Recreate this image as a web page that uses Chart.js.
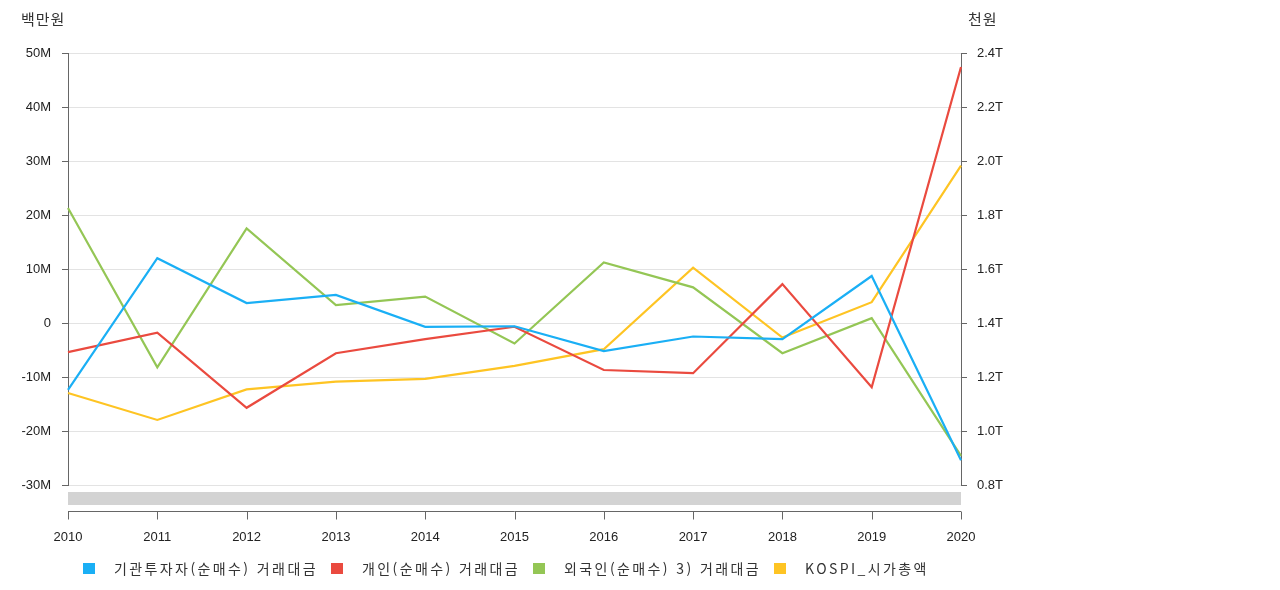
<!DOCTYPE html>
<html lang="ko">
<head>
<meta charset="utf-8">
<script src="https://cdn.jsdelivr.net/npm/chart.js@4/dist/chart.umd.min.js"></script>
<style>
    html, body { margin: 0; padding: 0; background: #fff; }
    #wrap { position: relative; width: 1280px; height: 590px; }
    #legend {
        position: absolute; left: 83px; top: 558px;
        display: flex; align-items: center;
        font-family: 'Noto Sans CJK KR', sans-serif; font-size: 14px; color: #333;
        letter-spacing: 2.4px;
    }
    #legend .item { display: flex; align-items: center; margin-right: 13px; }
    #legend .box { width: 12px; height: 11px; margin-right: 19px; }
</style>
</head>
<body>
<div id="wrap">
    <canvas id="chart"></canvas>
    <div id="legend"></div>
</div>
<script>
// 연도
const years = ['2010', '2011', '2012', '2013', '2014', '2015', '2016', '2017', '2018', '2019', '2020'];

// 백만원 단위 (왼쪽 축)
const institutional = [-12.4e6, 12.0e6, 3.7e6, 5.2e6, -0.7e6, -0.6e6, -5.2e6, -2.5e6, -3.0e6, 8.7e6, -25.4e6];
const individual = [-5.4e6, -1.8e6, -15.7e6, -5.6e6, -3.0e6, -0.7e6, -8.7e6, -9.3e6, 7.2e6, -11.9e6, 47.4e6];
const foreign = [21.3e6, -8.2e6, 17.5e6, 3.3e6, 4.9e6, -3.8e6, 11.2e6, 6.6e6, -5.6e6, 0.9e6, -24.6e6];

// 천원 단위 (오른쪽 축)
const kospiCap = [1.141e12, 1.041e12, 1.154e12, 1.183e12, 1.193e12, 1.241e12, 1.303e12, 1.605e12, 1.346e12, 1.477e12, 1.983e12];

const seriesNames = ['기관투자자(순매수) 거래대금', '개인(순매수) 거래대금', '외국인(순매수) 3) 거래대금', 'KOSPI_시가총액'];
const seriesColors = ['#1aaff5', '#ea4a3f', '#94c655', '#fec423'];

const leftTicks = v => v === 0 ? '0' : (v / 1e6) + 'M';
const rightTicks = v => (v / 1e12).toFixed(1) + 'T';

const axisColor = '#666';
const tickFont = { family: "'Liberation Sans', Arial, sans-serif", size: 13 };

// x축을 차트 영역 아래로 띄워서 그리고, 그 사이에 회색 바를 넣는다
const extrasPlugin = {
    id: 'extras',
    afterDraw(chart) {
        const ctx = chart.ctx;
        const area = chart.chartArea;
        const xScale = chart.scales.x;

        ctx.save();
        ctx.fillStyle = '#d3d3d3';
        ctx.fillRect(area.left, area.bottom + 7, area.right - area.left, 13);

        const axisY = Math.round(area.bottom + 26) + 0.5;
        ctx.strokeStyle = axisColor;
        ctx.lineWidth = 1;
        ctx.beginPath();
        ctx.moveTo(area.left, axisY);
        ctx.lineTo(area.right, axisY);
        years.forEach((_, i) => {
            const px = Math.round(xScale.getPixelForValue(i)) + 0.5;
            ctx.moveTo(px, axisY);
            ctx.lineTo(px, axisY + 8);
        });
        ctx.stroke();

        ctx.fillStyle = '#333';
        ctx.font = "15px 'Noto Sans CJK KR', sans-serif";
        ctx.letterSpacing = '1px';
        ctx.textBaseline = 'alphabetic';
        ctx.textAlign = 'left';
        ctx.fillText('백만원', 21, 25);
        ctx.fillText('천원', 968, 25);
        ctx.restore();
    }
};

const datasets = [
    { label: seriesNames[0], data: institutional, yAxisID: 'y' },
    { label: seriesNames[1], data: individual, yAxisID: 'y' },
    { label: seriesNames[2], data: foreign, yAxisID: 'y' },
    { label: seriesNames[3], data: kospiCap, yAxisID: 'y1' }
].map((ds, i) => Object.assign(ds, {
    borderColor: seriesColors[i],
    backgroundColor: seriesColors[i],
    borderWidth: 2.2,
    pointRadius: 0,
    tension: 0,
    fill: false
}));

const chart = new Chart(document.getElementById('chart'), {
    type: 'line',
    data: { labels: years, datasets: datasets },
    options: {
        responsive: true,
        maintainAspectRatio: false,
        animation: false,
        layout: { padding: { top: 53, right: 269, bottom: 45, left: 0 } },
        plugins: {
            legend: { display: false },
            tooltip: { enabled: false }
        },
        scales: {
            x: {
                offset: false,
                grid: { drawOnChartArea: false, drawTicks: true, tickLength: 35, color: 'transparent' },
                border: { display: false },
                ticks: { color: '#222', font: tickFont, padding: 10, maxRotation: 0, autoSkip: false },
                afterFit: scale => { scale.height = 60; }
            },
            y: {
                position: 'left',
                min: -30e6, max: 50e6,
                ticks: { stepSize: 10e6, callback: leftTicks, color: '#222', font: tickFont, padding: 11 },
                grid: { color: '#e3e3e3', tickColor: axisColor, tickLength: 6 },
                border: { color: axisColor },
                afterFit: scale => { scale.width = 68; }
            },
            y1: {
                position: 'right',
                min: 0.8e12, max: 2.4e12,
                ticks: { stepSize: 0.2e12, callback: rightTicks, color: '#222', font: tickFont, padding: 10 },
                grid: { drawOnChartArea: false, tickColor: axisColor, tickLength: 6 },
                border: { color: axisColor },
                afterFit: scale => { scale.width = 50; }
            }
        }
    },
    plugins: [extrasPlugin]
});

// 범례
const legend = document.getElementById('legend');
chart.data.datasets.forEach(ds => {
    const item = document.createElement('div');
    item.className = 'item';
    const box = document.createElement('span');
    box.className = 'box';
    box.style.background = ds.borderColor;
    const text = document.createElement('span');
    text.textContent = ds.label;
    item.appendChild(box);
    item.appendChild(text);
    legend.appendChild(item);
});
</script>
</body>
</html>
